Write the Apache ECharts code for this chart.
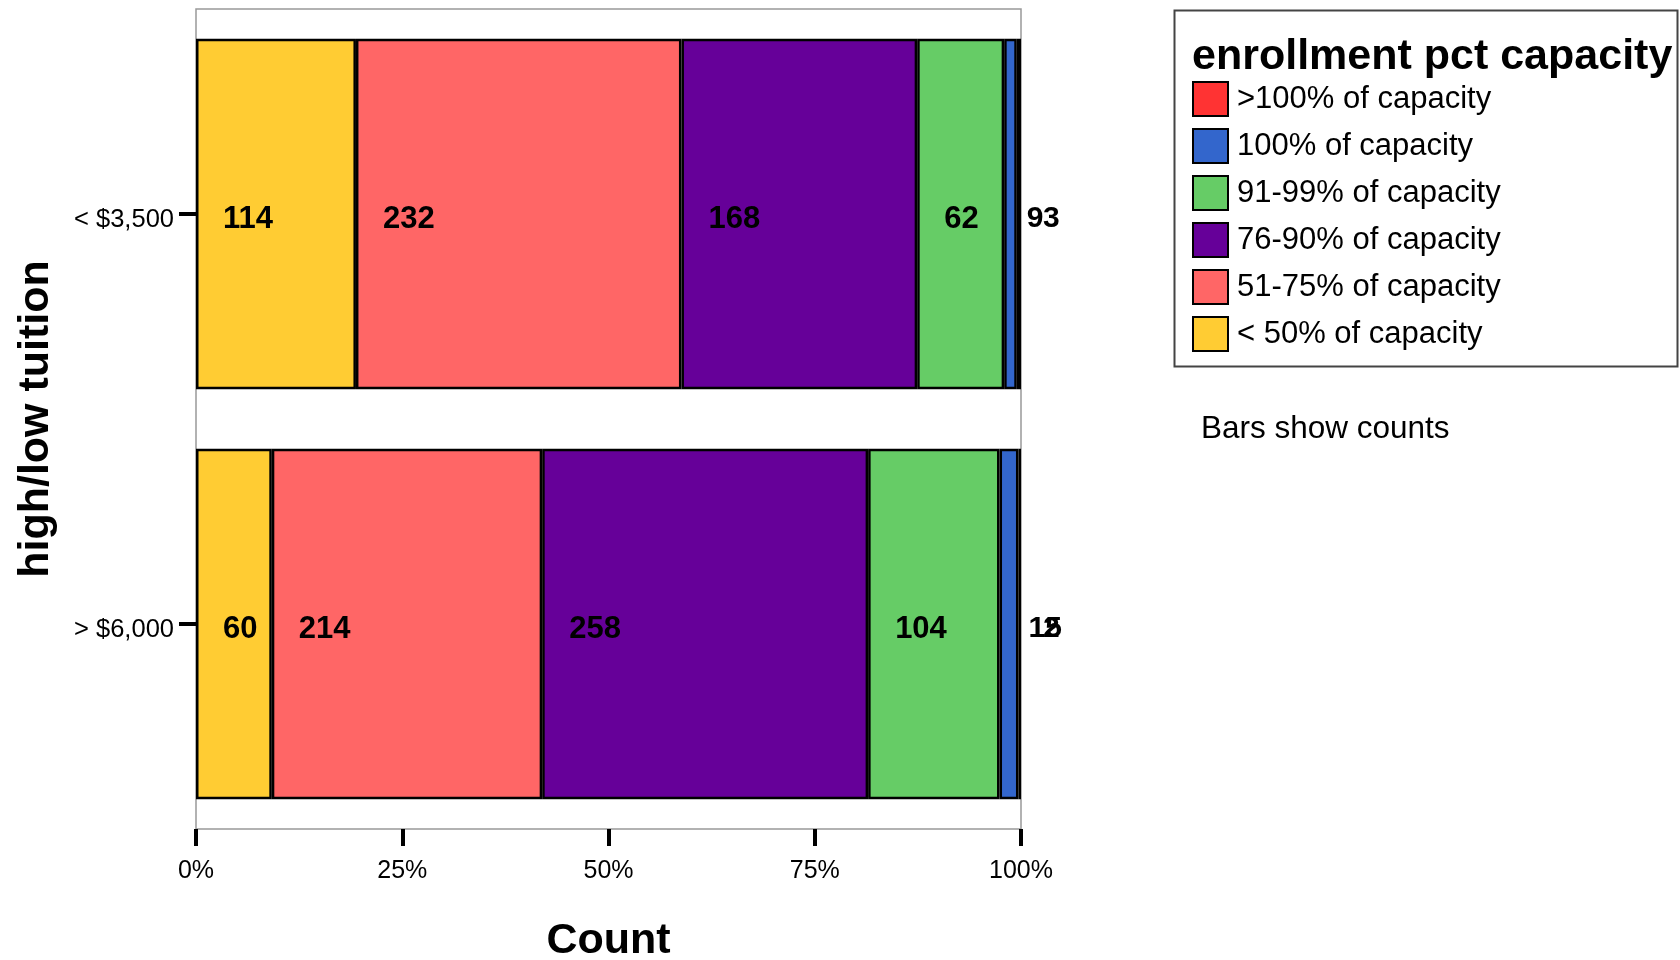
<!DOCTYPE html>
<html>
<head>
<meta charset="utf-8">
<script src="https://cdn.jsdelivr.net/npm/echarts@6/dist/echarts.min.js"></script>
<style>
html,body{margin:0;padding:0;background:#fff;}
#chart{width:1680px;height:960px;}
</style>
</head>
<body>
<div id="chart"></div>
<script>
// ---- data ----
const categories = ['< $3,500', '> $6,000'];
const seriesNames = ['< 50% of capacity', '51-75% of capacity', '76-90% of capacity', '91-99% of capacity', '100% of capacity', '>100% of capacity'];
const seriesColors = ['#FFCC33', '#FF6666', '#660099', '#66CC66', '#3366CC', '#FF3333'];
const countsUnder50 = [114, 60];
const counts51to75 = [232, 214];
const counts76to90 = [168, 258];
const counts91to99 = [62, 104];
const counts100 = [9, 15];
const countsOver100 = [3, 2];
const xTickLabels = ['0%', '25%', '50%', '75%', '100%'];

const allCounts = [countsUnder50, counts51to75, counts76to90, counts91to99, counts100, countsOver100];
const totals = categories.map((c, i) => allCounts.reduce((s, arr) => s + arr[i], 0));

const font = 'Liberation Sans, Arial, sans-serif';

const series = allCounts.map((arr, si) => {
  let label;
  if (si < 4) {
    label = { show: true, position: [27, '50%'], offset: [0, 5], align: 'left', verticalAlign: 'middle',
      fontFamily: font, fontWeight: 'bold', fontSize: 31, color: '#000',
      formatter: p => String(arr[p.dataIndex]) };
  } else {
    label = { show: true, position: 'right', offset: [0, 5], distance: si === 4 ? 10 : 22, align: 'left', verticalAlign: 'middle',
      fontFamily: font, fontWeight: 'bold', fontSize: 30, color: '#000',
      formatter: p => String(arr[p.dataIndex]) };
  }
  return {
    name: seriesNames[si],
    type: 'bar',
    stack: 'total',
    barCategoryGap: '14.5%',
    data: arr.map((v, i) => v / totals[i] * 100),
    itemStyle: { color: seriesColors[si], borderColor: '#000', borderWidth: 2.5 },
    label: label,
    emphasis: { disabled: true },
    silent: true
  };
});

const chart = echarts.init(document.getElementById('chart'), null, { renderer: 'canvas' });
chart.setOption({
  animation: false,
  backgroundColor: '#fff',
  grid: { left: 196, top: 9, width: 825, height: 820, containLabel: false, outerBoundsMode: 'none',
    show: true, borderColor: '#999', borderWidth: 1.5, backgroundColor: 'transparent' },
  xAxis: {
    type: 'value', min: 0, max: 100, interval: 25,
    name: 'Count', nameLocation: 'middle', nameGap: 91,
    nameTextStyle: { fontFamily: font, fontWeight: 'bold', fontSize: 43, color: '#000' },
    axisLine: { show: false },
    axisTick: { show: true, length: 17, lineStyle: { color: '#000', width: 4 } },
    splitLine: { show: false },
    axisLabel: { margin: 30, fontFamily: font, fontSize: 25, color: '#000',
      formatter: v => xTickLabels[Math.round(v / 25)] }
  },
  yAxis: {
    type: 'category', data: categories, inverse: true,
    name: 'high/low tuition', nameLocation: 'middle', nameGap: 138,
    nameTextStyle: { fontFamily: font, fontWeight: 'bold', fontSize: 43, color: '#000' },
    axisLine: { show: false },
    axisTick: { show: true, alignWithLabel: true, length: 17, lineStyle: { color: '#000', width: 4 } },
    axisLabel: { margin: 22, color: '#000',
      formatter: v => '{c|' + v + '}',
      rich: { c: { fontFamily: font, fontSize: 25.5, color: '#000', padding: [11, 0, 0, 0] } } }
  },
  legend: {
    orient: 'vertical', left: 1187, top: 76,
    data: seriesNames.slice().reverse(),
    itemWidth: 35, itemHeight: 34, itemGap: 11,
    icon: 'rect',
    textStyle: { fontFamily: font, fontSize: 31, color: '#000', padding: [0, 0, 0, 4] },
    selectedMode: false
  },
  graphic: [
    { type: 'rect', left: 1172, top: 8, shape: { width: 503, height: 356 }, style: { fill: 'none', stroke: '#444', lineWidth: 2 }, silent: true },
    { type: 'text', left: 1192, top: 36, style: { text: 'enrollment pct capacity', font: 'bold 43px ' + font, fill: '#000' }, silent: true },
    { type: 'text', left: 1201, top: 413, style: { text: 'Bars show counts', font: '31.5px ' + font, fill: '#000' }, silent: true }
  ],
  series: series
});
</script>
</body>
</html>
